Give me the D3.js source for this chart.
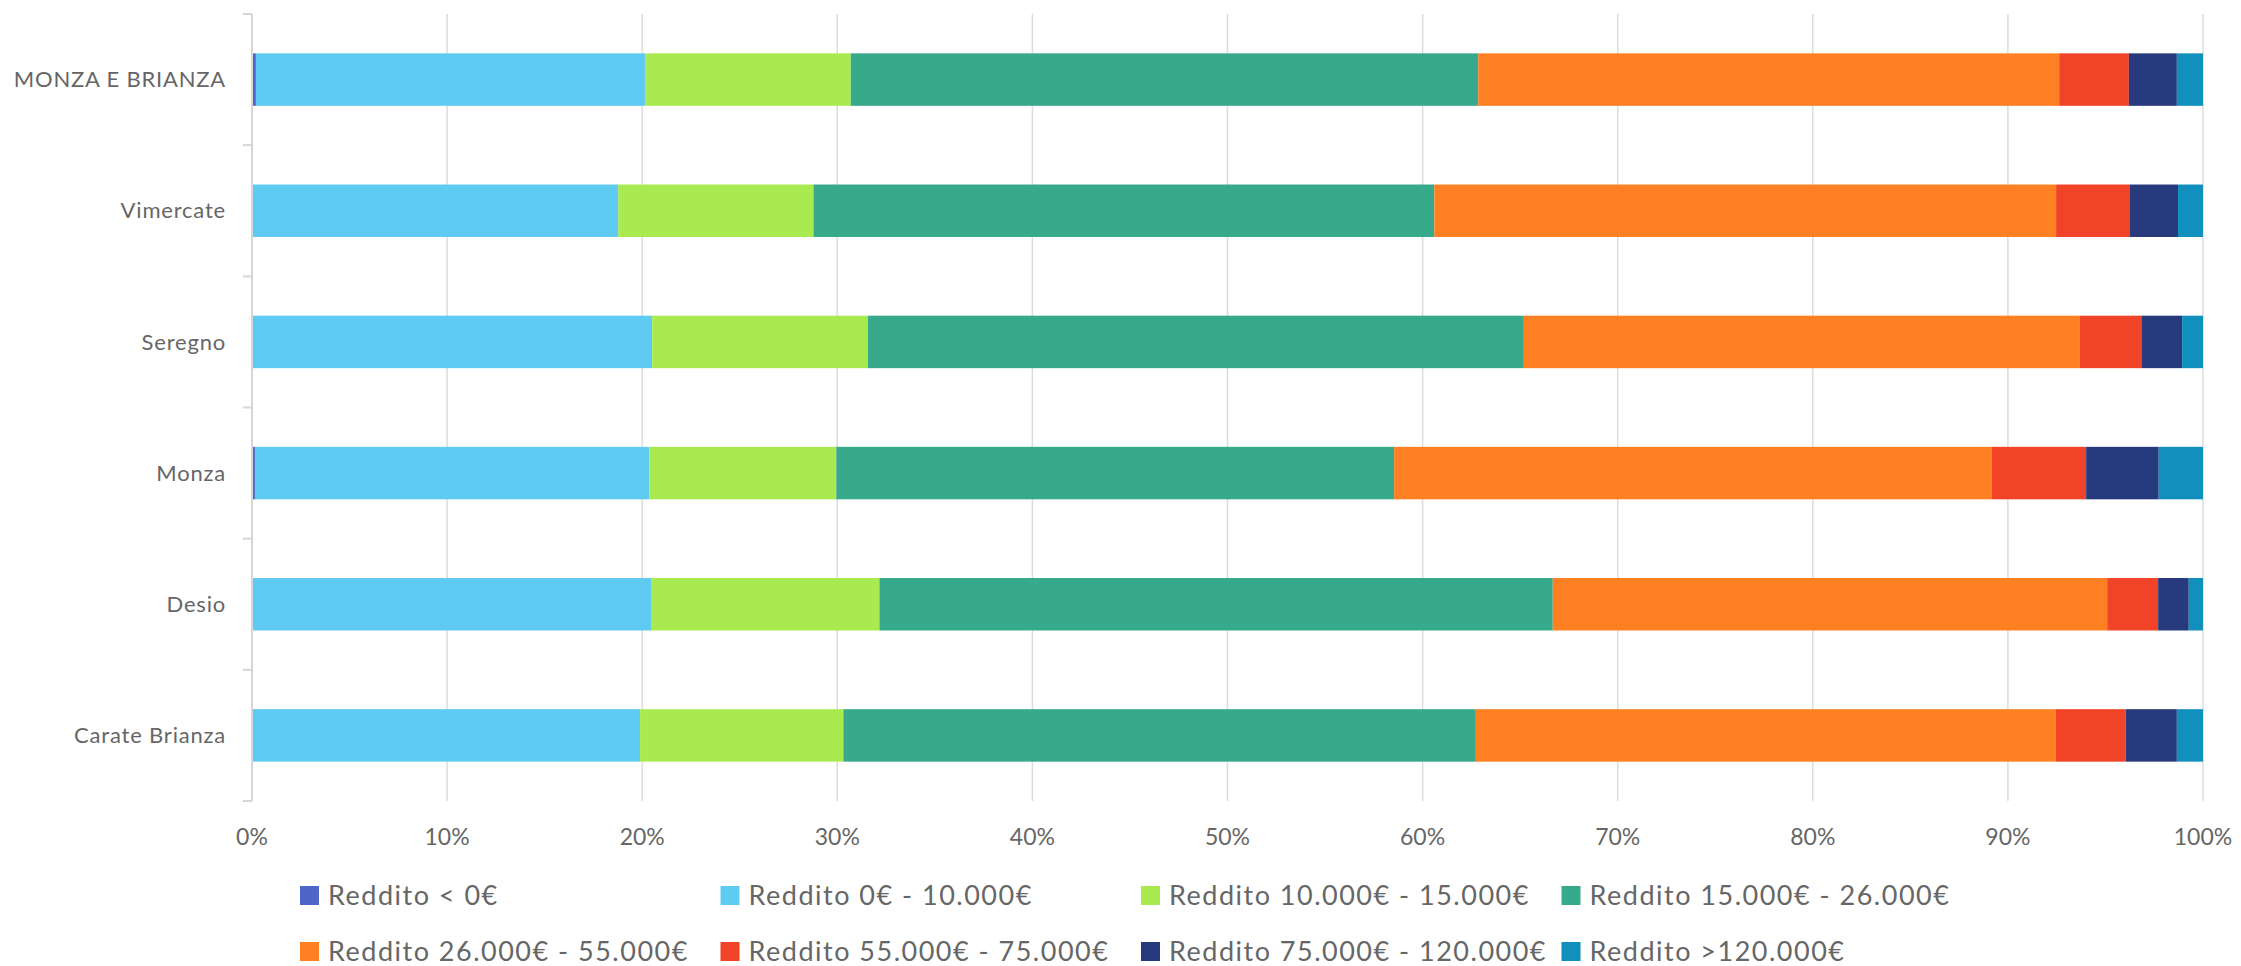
<!DOCTYPE html>
<html>
<head>
<meta charset="utf-8">
<script src="https://cdn.jsdelivr.net/npm/d3@7"></script>
<style>
  body { margin: 0; background: #fff; }
  text { font-family: Lato, "Open Sans", sans-serif; fill: #666; }
</style>
</head>
<body>
<div id="chart"></div>
<script>
// categories, top to bottom
var comuni = ["MONZA E BRIANZA", "Vimercate", "Seregno", "Monza", "Desio", "Carate Brianza"];

// income brackets (stack order, left to right)
var fasce = [
    "Reddito < 0€",
    "Reddito 0€ - 10.000€",
    "Reddito 10.000€ - 15.000€",
    "Reddito 15.000€ - 26.000€",
    "Reddito 26.000€ - 55.000€",
    "Reddito 55.000€ - 75.000€",
    "Reddito 75.000€ - 120.000€",
    "Reddito >120.000€"
];
var colori = ["#4f66c9", "#60cbf2", "#a9ea51", "#36aa8a", "#ff8023", "#f04327", "#273a7d", "#1190be"];

// share of taxpayers per bracket (%), one array per comune
var monzaBrianza = [0.20, 19.95, 10.54, 32.16, 29.78, 3.57, 2.46, 1.34];
var vimercate    = [0.00, 18.77, 10.01, 31.82, 31.87, 3.76, 2.49, 1.28];
var seregno      = [0.00, 20.51, 11.06, 33.62, 28.48, 3.17, 2.09, 1.07];
var monza        = [0.15, 20.21,  9.59, 28.59, 30.64, 4.83, 3.72, 2.27];
var desio        = [0.00, 20.45, 11.71, 34.51, 28.42, 2.61, 1.57, 0.73];
var carate       = [0.00, 19.89, 10.42, 32.42, 29.71, 3.60, 2.62, 1.34];

var xTicks = [0, 10, 20, 30, 40, 50, 60, 70, 80, 90, 100];

var valori = [monzaBrianza, vimercate, seregno, monza, desio, carate];

var width = 2241, height = 966;
var margin = { top: 14, right: 38, bottom: 165, left: 252 };

var svg = d3.select("#chart").append("svg")
    .attr("width", width)
    .attr("height", height);

var rows = comuni.map(function (c, i) {
    var r = { comune: c };
    fasce.forEach(function (f, j) { r[f] = valori[i][j]; });
    return r;
});

var x = d3.scaleLinear().domain([0, 100]).range([margin.left, width - margin.right]);
var y = d3.scaleBand().domain(comuni).range([margin.top, height - margin.bottom]).padding(0);
var barH = y.bandwidth() * 0.4;
var color = d3.scaleOrdinal().domain(fasce).range(colori);

var stack = d3.stack().keys(fasce).offset(d3.stackOffsetExpand);
var series = stack(rows);

// vertical gridlines
svg.append("g")
    .selectAll("line")
    .data(xTicks.slice(1))
    .enter().append("line")
    .attr("x1", function (d) { return x(d); })
    .attr("x2", function (d) { return x(d); })
    .attr("y1", margin.top)
    .attr("y2", height - margin.bottom)
    .attr("stroke", "#dcdcdc")
    .attr("stroke-width", 1.5);

// bars
svg.append("g")
    .selectAll("g")
    .data(series)
    .enter().append("g")
    .attr("fill", function (d) { return color(d.key); })
    .selectAll("rect")
    .data(function (d) { return d; })
    .enter().append("rect")
    .attr("x", function (d) { return x(d[0] * 100); })
    .attr("width", function (d) { return Math.max(0, x(d[1] * 100) - x(d[0] * 100)); })
    .attr("y", function (d) { return y(d.data.comune) + (y.bandwidth() - barH) / 2; })
    .attr("height", barH);

// y axis: line + ticks at band boundaries
var yAxisG = svg.append("g");
var bounds = comuni.map(function (c) { return y(c); }).concat([y.range()[1]]);
yAxisG.append("line")
    .attr("x1", x(0)).attr("x2", x(0))
    .attr("y1", margin.top).attr("y2", height - margin.bottom)
    .attr("stroke", "#d6d6d6").attr("stroke-width", 2);
yAxisG.selectAll("line.tick")
    .data(bounds)
    .enter().append("line")
    .attr("class", "tick")
    .attr("x1", x(0) - 9).attr("x2", x(0))
    .attr("y1", function (d) { return d; })
    .attr("y2", function (d) { return d; })
    .attr("stroke", "#d6d6d6").attr("stroke-width", 2);
yAxisG.selectAll("text")
    .data(comuni)
    .enter().append("text")
    .attr("x", x(0) - 26)
    .attr("y", function (d) { return y(d) + y.bandwidth() / 2; })
    .attr("dy", "0.35em")
    .attr("text-anchor", "end")
    .style("font-size", "22px")
    .style("letter-spacing", "0.8px")
    .text(function (d) { return d; });

// x axis labels
svg.append("g")
    .selectAll("text")
    .data(xTicks)
    .enter().append("text")
    .attr("x", function (d) { return x(d); })
    .attr("y", 837)
    .attr("dy", "0.35em")
    .attr("text-anchor", "middle")
    .style("font-size", "23px")
    .text(function (d) { return d + "%"; });

// legend, 4 columns x 2 rows
var legend = svg.append("g")
    .selectAll("g")
    .data(fasce)
    .enter().append("g")
    .attr("transform", function (d, i) {
        return "translate(" + (300 + (i % 4) * 420.5) + "," + (886 + Math.floor(i / 4) * 56) + ")";
    });
legend.append("rect")
    .attr("width", 19).attr("height", 19)
    .attr("fill", function (d) { return color(d); });
legend.append("text")
    .attr("x", 28)
    .attr("y", 9.5)
    .attr("dy", "0.35em")
    .style("font-size", "27px")
    .style("letter-spacing", "1.5px")
    .text(function (d) { return d; });
</script>
</body>
</html>
